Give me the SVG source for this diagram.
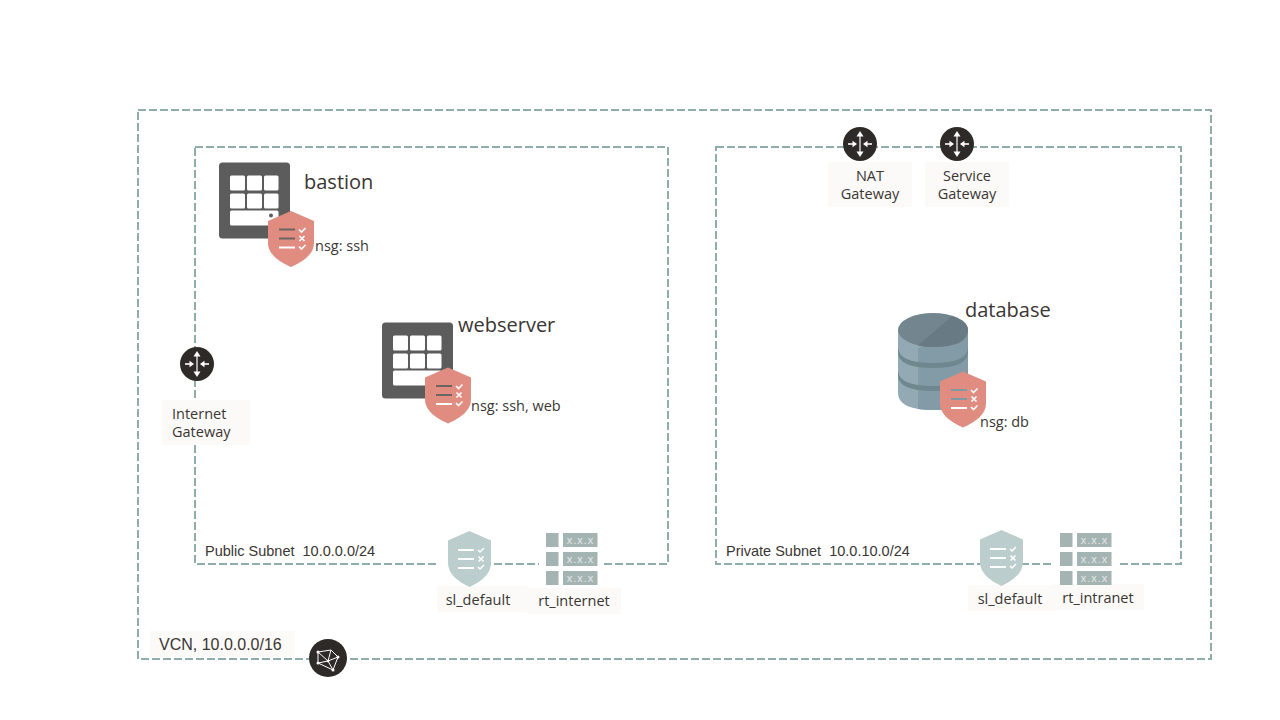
<svg xmlns="http://www.w3.org/2000/svg" xmlns:xlink="http://www.w3.org/1999/xlink" width="1280" height="720" viewBox="0 0 1280 720">
<style>
.dash{fill:none;stroke:#8fadaa;stroke-width:2;stroke-dasharray:8 3}
.bg{fill:#fbfaf8}
text{font-family:"Open Sans","Noto Sans","Liberation Sans",sans-serif;fill:#3a3633}
.lg{font-size:20px}
.md{font-size:14.5px}
.ar{font-family:"Liberation Sans",Arial,sans-serif;font-size:14.500px}
.mid{text-anchor:middle}
.xx{fill:#e3e9e8;font-family:"Liberation Sans",sans-serif;font-size:11px;letter-spacing:1px;text-anchor:middle}
</style>
<defs>
<symbol id="server" overflow="visible">
<rect x="0" y="0" width="71" height="76" rx="3.5" fill="#5c5c5c"/>
<g fill="#fff">
<rect x="11" y="13" width="15" height="15" rx="1.500"/><rect x="28" y="13" width="15" height="15" rx="1.500"/><rect x="45" y="13" width="14.500" height="15" rx="1.500"/>
<rect x="11" y="31" width="15" height="15" rx="1.500"/><rect x="28" y="31" width="15" height="15" rx="1.500"/><rect x="45" y="31" width="14.500" height="15" rx="1.500"/>
<rect x="11" y="48" width="48.500" height="15" rx="1.500"/>
</g>
</symbol>
<symbol id="nsg" overflow="visible">
<path d="M23 0L46 10V32Q46 46 23 56Q0 46 0 32V10Z" fill="#e08c80"/>
<g fill="none" stroke-width="2">
<path d="M11 18.500H27" stroke="currentColor"/>
<path d="M11 27.500H27" stroke="currentColor"/><path d="M11 36.500H27" stroke="#fff"/>
<path d="M31 18.500l2.500 2.500l4 -4M31.500 25l5 5M36.500 25l-5 5M31 35.500l2.500 2.500l4 -4" stroke="#fff" stroke-width="1.600"/>
</g>
</symbol>
<symbol id="sl" overflow="visible">
<path d="M21.500 0L43 9.500V32Q43 46 21.500 56Q0 46 0 32V9.500Z" fill="#bccdcd"/>
<g fill="none" stroke="#fff" stroke-width="2">
<path d="M10 19H26M10 28H26M10 37H26"/>
<path d="M30 19l2 2l4 -4M30.500 25.500l5 5M35.500 25.500l-5 5M30 36l2 2l4 -4" stroke-width="1.500"/>
</g>
</symbol>
<symbol id="rt" overflow="visible">
<g fill="#a3b4b2">
<rect x="0" y="0" width="12.500" height="14"/><rect x="17" y="0" width="34.500" height="14"/>
<rect x="0" y="19" width="12.500" height="14"/><rect x="17" y="19" width="34.500" height="14"/>
<rect x="0" y="38" width="12.500" height="14"/><rect x="17" y="38" width="34.500" height="14"/>
</g>
<text class="xx" x="34.500" y="10.500">x.x.x</text>
<text class="xx" x="34.500" y="29.500">x.x.x</text>
<text class="xx" x="34.500" y="48.500">x.x.x</text>
</symbol>
<symbol id="gw" overflow="visible">
<circle cx="0" cy="0" r="17" fill="#2e2a27"/>
<g fill="#fff" stroke="none">
<path d="M-0.600 -8H0.600V8H-0.600Z"/>
<path d="M0 -13L3.500 -7.500H-3.500Z"/><path d="M0 13L3.500 7.500H-3.500Z"/>
<path d="M-12 -0.800H-7V0.800H-12Z"/><path d="M-3 0L-7.500 -3.200V3.200Z"/>
<path d="M12 -0.800H7V0.800H12Z"/><path d="M3 0L7.500 -3.200V3.200Z"/>
</g>
</symbol>
</defs>

<g id="connectors">
<rect class="dash" x="138" y="110" width="1073" height="549"/>
<rect class="dash" x="195" y="147" width="473" height="417"/>
<rect class="dash" x="716" y="147" width="465" height="417"/>
<rect x="539" y="561" width="65" height="6" fill="#fff"/>
<rect x="439" y="561" width="12" height="6" fill="#fff"/>
<rect x="1053" y="561" width="66" height="6" fill="#fff"/>
</g>

<g id="vcn">
<rect class="bg" x="150" y="631" width="145" height="26"/>
<text class="ar" x="159" y="650" style="font-size:16px">VCN, 10.0.0.0/16</text>
<circle cx="328" cy="658" r="19" fill="#2e2a27"/>
<g fill="none" stroke="#fff" stroke-width="1">
<path d="M318 652L331 650L338 657L333 670L318 663ZM318 652L328 661M318 663L328 661M331 650L328 661M338 657L328 661M333 670L328 661"/>
</g>
<g fill="#fff"><circle cx="318" cy="652" r="1.500"/><circle cx="338" cy="657" r="1.500"/><circle cx="333" cy="670" r="1.500"/><circle cx="318" cy="663" r="1.500"/><circle cx="328" cy="661" r="1.300"/></g>
</g>

<g id="public-subnet-label"><text class="ar" x="205" y="556" xml:space="preserve">Public Subnet  10.0.0.0/24</text></g>
<g id="private-subnet-label"><text class="ar" x="726" y="556" xml:space="preserve">Private Subnet  10.0.10.0/24</text></g>

<g id="bastion">
<use xlink:href="#server" href="#server" x="219" y="162.500"/>
<circle cx="271" cy="215.500" r="2" fill="#5c5c5c"/>
<use xlink:href="#nsg" href="#nsg" x="268" y="211" color="#6b6461"/>
<text class="lg" x="304" y="189">bastion</text>
<text class="md" x="315" y="251">nsg: ssh</text>
</g>

<g id="webserver">
<use xlink:href="#server" href="#server" x="382" y="322.500"/>
<use xlink:href="#nsg" href="#nsg" x="425" y="367.500" color="#6b6461"/>
<text class="lg" x="458" y="332">webserver</text>
<text class="md" x="471" y="411">nsg: ssh, web</text>
</g>

<g id="database">
<path d="M898 330V393Q898 410 933 410Q968 410 968 393V330Z" fill="#93aab5"/>
<path d="M918 348V409Q925 410 933 410Q968 410 968 393V330Z" fill="#829ba6"/>
<path d="M898 352Q898 368 933 368Q968 368 968 352V347Q968 363 933 363Q898 363 898 347Z" fill="#6f8890"/>
<path d="M898 375Q898 391 933 391Q968 391 968 375V370Q968 386 933 386Q898 386 898 370Z" fill="#6f8890"/>
<ellipse cx="933" cy="330" rx="35" ry="17" fill="#73868f"/>
<path d="M918 345.500L952 316Q968 321 968 330Q968 347 933 347Q925 347 918 345.500Z" fill="#687b84"/>
<use xlink:href="#nsg" href="#nsg" x="940" y="371.500" color="#7f98a2"/>
<text class="lg" x="965" y="317">database</text>
<text class="md" x="980" y="427">nsg: db</text>
</g>

<g id="nat-gateway">
<rect class="bg" x="828" y="162" width="84" height="45"/>
<use xlink:href="#gw" href="#gw" x="860" y="144"/>
<text class="md mid" x="870" y="181">NAT</text>
<text class="md mid" x="870" y="199">Gateway</text>
</g>

<g id="service-gateway">
<rect class="bg" x="925" y="162" width="84" height="45"/>
<use xlink:href="#gw" href="#gw" x="957" y="144"/>
<text class="md mid" x="967" y="181">Service</text>
<text class="md mid" x="967" y="199">Gateway</text>
</g>

<g id="internet-gateway">
<rect class="bg" x="162" y="400" width="88" height="45"/>
<use xlink:href="#gw" href="#gw" x="197" y="364"/>
<text class="md" x="172" y="419">Internet</text>
<text class="md" x="172" y="437">Gateway</text>
</g>

<g id="sl-default-public">
<rect class="bg" x="437" y="586" width="90" height="26"/>
<use xlink:href="#sl" href="#sl" x="448" y="531"/>
<text class="md mid" x="478" y="605">sl_default</text>
</g>

<g id="rt-internet">
<rect class="bg" x="527" y="588" width="94" height="26"/>
<use xlink:href="#rt" href="#rt" x="546" y="533"/>
<text class="md mid" x="574" y="606">rt_internet</text>
</g>

<g id="sl-default-private">
<rect class="bg" x="968" y="585" width="90" height="26"/>
<use xlink:href="#sl" href="#sl" x="980" y="530"/>
<text class="md mid" x="1010" y="604">sl_default</text>
</g>

<g id="rt-intranet">
<rect class="bg" x="1052" y="584" width="92" height="26"/>
<use xlink:href="#rt" href="#rt" x="1060" y="533"/>
<text class="md mid" x="1098" y="603">rt_intranet</text>
</g>
</svg>
